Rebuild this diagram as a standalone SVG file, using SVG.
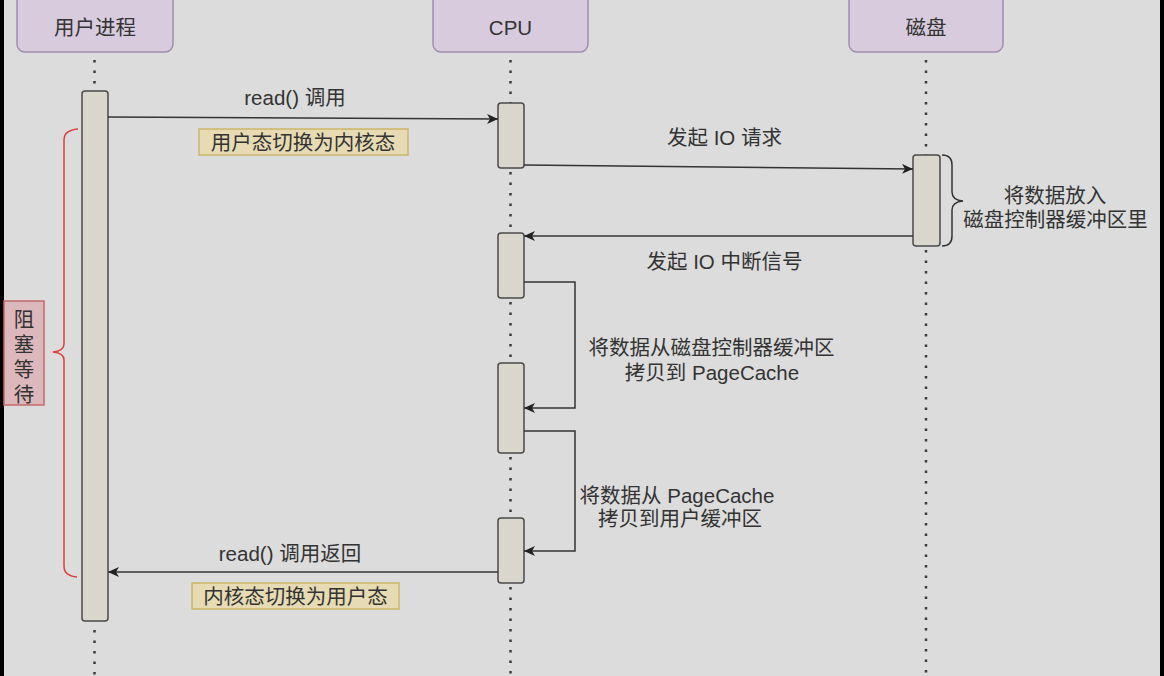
<svg xmlns="http://www.w3.org/2000/svg" width="1164" height="676" viewBox="0 0 1164 676">
<defs>
<style>
.t{font-family:"Liberation Sans","Noto Sans CJK SC",sans-serif;font-size:20.5px;fill:#333;text-anchor:middle;dominant-baseline:central}
.hdr{fill:#d7cbdd;stroke:#a08cae;stroke-width:1.5}
.bar{fill:#d9d6cd;stroke:#4a4a4a;stroke-width:1.5}
.life{stroke:#3a3a3a;stroke-width:2.5;stroke-dasharray:2.5 8;fill:none}
.msg{stroke:#333;stroke-width:1.5;fill:none;marker-end:url(#ah)}
.note{fill:#e6dbb3;stroke:#cdb66a;stroke-width:1.5}
</style>
<marker id="ah" markerUnits="userSpaceOnUse" markerWidth="12" markerHeight="10" refX="11" refY="5" orient="auto">
<path d="M0,0 L11,5 L0,10 L3,5 Z" fill="#222"/>
</marker>
</defs>
<rect x="0" y="0" width="1164" height="676" fill="#dcdcdc"/>
<rect x="0" y="0" width="4" height="676" fill="#000"/>
<rect x="1160" y="0" width="4" height="676" fill="#000"/>

<g id="lifelines">
<path class="life" d="M94.5,60 V91 M94.5,630 V676"/>
<path class="life" d="M510.5,60 V103 M510.5,172 V233 M510.5,302 V363 M510.5,457 V518 M510.5,587 V676"/>
<path class="life" d="M926,60 V155 M926,250 V676"/>
</g>

<g id="user">
<rect class="hdr" x="17" y="-8" width="156" height="60" rx="8"/>
<text class="t" x="95" y="27">用户进程</text>
</g>
<g id="cpu">
<rect class="hdr" x="433" y="-8" width="155" height="60" rx="8"/>
<text class="t" x="510.5" y="27">CPU</text>
</g>
<g id="disk">
<rect class="hdr" x="849" y="-8" width="154" height="60" rx="8"/>
<text class="t" x="926" y="27">磁盘</text>
</g>

<g id="user-bar"><rect class="bar" x="82" y="91" width="26" height="530" rx="3"/></g>
<g id="cpu-bar1"><rect class="bar" x="498" y="103" width="26" height="65" rx="3"/></g>
<g id="cpu-bar2"><rect class="bar" x="498" y="233" width="26" height="65" rx="3"/></g>
<g id="cpu-bar3"><rect class="bar" x="498" y="363" width="26" height="90" rx="3"/></g>
<g id="cpu-bar4"><rect class="bar" x="498" y="518" width="26" height="65" rx="3"/></g>
<g id="disk-bar"><rect class="bar" x="913" y="155" width="27" height="91" rx="3"/></g>

<g id="connectors">
<path class="msg" d="M108,117 L498,119"/>
<path class="msg" d="M524,165 L913,169"/>
<path class="msg" d="M913,236 L524,236"/>
<path class="msg" d="M524,282 H575 V408 H524"/>
<path class="msg" d="M524,431 H575 V551 H524"/>
<path class="msg" d="M498,572 L108,572"/>
</g>

<g id="labels">
<text class="t" x="295" y="97">read() 调用</text>
<g id="note1">
<rect class="note" x="199" y="129" width="209" height="26"/>
<text class="t" x="303" y="142">用户态切换为内核态</text>
</g>
<text class="t" x="724.5" y="137.5">发起 IO 请求</text>
<text class="t" x="724.5" y="261">发起 IO 中断信号</text>
<text class="t" x="711.5" y="347.5">将数据从磁盘控制器缓冲区</text>
<text class="t" x="712" y="372">拷贝到 PageCache</text>
<text class="t" x="677" y="495">将数据从 PageCache</text>
<text class="t" x="680" y="518.5">拷贝到用户缓冲区</text>
<text class="t" x="290" y="553.5">read() 调用返回</text>
<g id="note2">
<rect class="note" x="192" y="583" width="207" height="26"/>
<text class="t" x="295.5" y="596">内核态切换为用户态</text>
</g>
</g>

<g id="disk-note">
<path d="M942,155 Q952,155 952,165 L952,192 Q952,200 963,201 Q952,202 952,210 L952,236 Q952,246 942,246" fill="none" stroke="#333" stroke-width="1.5"/>
<text class="t" x="1055" y="195.5">将数据放入</text>
<text class="t" x="1055.5" y="219">磁盘控制器缓冲区里</text>
</g>

<g id="blocking">
<path d="M78,129 Q64,130 64,140 L64,344 Q64,351 53,352 Q64,353 64,360 L64,566 Q64,576 77,577" fill="none" stroke="#e03c3c" stroke-width="1.5"/>
<rect x="4" y="301" width="40" height="104" fill="#dcb8bc" stroke="#c46a6a" stroke-width="1.5"/>
<text class="t" x="24" y="319">阻</text>
<text class="t" x="24" y="344">塞</text>
<text class="t" x="24" y="369">等</text>
<text class="t" x="24" y="394">待</text>
</g>
</svg>
